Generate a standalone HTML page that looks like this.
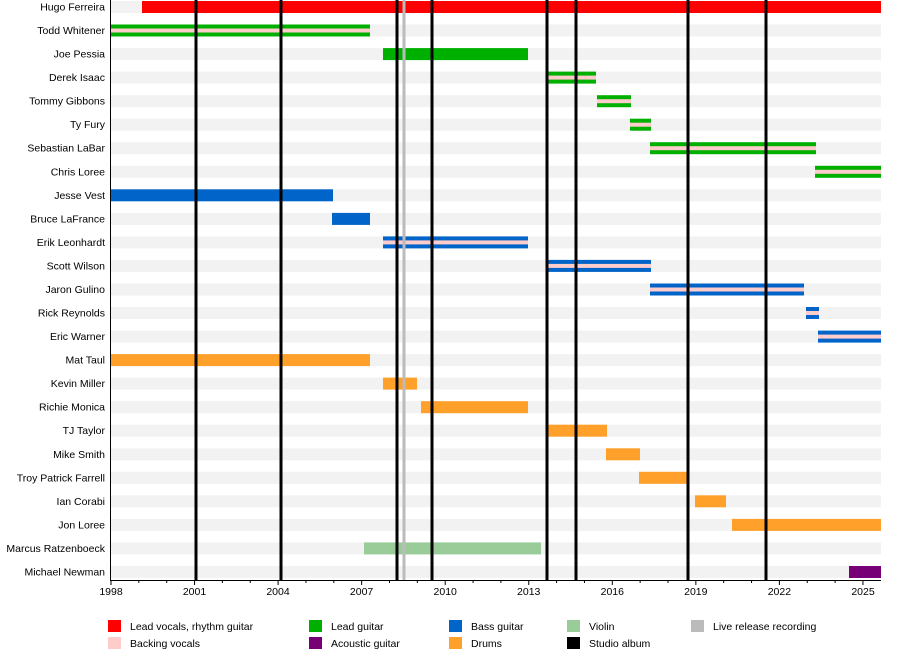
<!DOCTYPE html>
<html><head><meta charset="utf-8"><style>body{margin:0;background:#fff}svg{display:block}text{font-family:"Liberation Sans",sans-serif;font-size:10.5px;fill:#000}</style></head><body>
<svg width="900" height="656" xmlns="http://www.w3.org/2000/svg">
<g fill="#f2f2f2">
<rect x="111" y="1" width="770" height="12"/><rect x="111" y="24.5" width="770" height="12"/><rect x="111" y="48.1" width="770" height="12"/><rect x="111" y="71.6" width="770" height="12"/><rect x="111" y="95.2" width="770" height="12"/><rect x="111" y="118.7" width="770" height="12"/><rect x="111" y="142.2" width="770" height="12"/><rect x="111" y="165.8" width="770" height="12"/><rect x="111" y="189.3" width="770" height="12"/><rect x="111" y="212.9" width="770" height="12"/><rect x="111" y="236.4" width="770" height="12"/><rect x="111" y="259.9" width="770" height="12"/><rect x="111" y="283.5" width="770" height="12"/><rect x="111" y="307" width="770" height="12"/><rect x="111" y="330.6" width="770" height="12"/><rect x="111" y="354.1" width="770" height="12"/><rect x="111" y="377.6" width="770" height="12"/><rect x="111" y="401.2" width="770" height="12"/><rect x="111" y="424.7" width="770" height="12"/><rect x="111" y="448.3" width="770" height="12"/><rect x="111" y="471.8" width="770" height="12"/><rect x="111" y="495.3" width="770" height="12"/><rect x="111" y="518.9" width="770" height="12"/><rect x="111" y="542.4" width="770" height="12"/><rect x="111" y="566" width="770" height="12"/>
</g>
<g text-anchor="end">
<text x="105" y="10.5">Hugo Ferreira</text><text x="105" y="34">Todd Whitener</text><text x="105" y="57.6">Joe Pessia</text><text x="105" y="81.1">Derek Isaac</text><text x="105" y="104.7">Tommy Gibbons</text><text x="105" y="128.2">Ty Fury</text><text x="105" y="151.7">Sebastian LaBar</text><text x="105" y="175.3">Chris Loree</text><text x="105" y="198.8">Jesse Vest</text><text x="105" y="222.4">Bruce LaFrance</text><text x="105" y="245.9">Erik Leonhardt</text><text x="105" y="269.4">Scott Wilson</text><text x="105" y="293">Jaron Gulino</text><text x="105" y="316.5">Rick Reynolds</text><text x="105" y="340.1">Eric Warner</text><text x="105" y="363.6">Mat Taul</text><text x="105" y="387.1">Kevin Miller</text><text x="105" y="410.7">Richie Monica</text><text x="105" y="434.2">TJ Taylor</text><text x="105" y="457.8">Mike Smith</text><text x="105" y="481.3">Troy Patrick Farrell</text><text x="105" y="504.8">Ian Corabi</text><text x="105" y="528.4">Jon Loree</text><text x="105" y="551.9">Marcus Ratzenboeck</text><text x="105" y="575.5">Michael Newman</text>
</g>
<rect x="142" y="1" width="739" height="12" fill="#ff0000"/>
<g fill="#00b000">
<rect x="111" y="24.5" width="259" height="12"/><rect x="383" y="48.1" width="145" height="12"/><rect x="548" y="71.6" width="48" height="12"/><rect x="597" y="95.2" width="34" height="12"/><rect x="630" y="118.7" width="21" height="12"/><rect x="650" y="142.2" width="166" height="12"/><rect x="815" y="165.8" width="66" height="12"/>
</g>
<g fill="#0064c8">
<rect x="111" y="189.3" width="222" height="12"/><rect x="332" y="212.9" width="38" height="12"/><rect x="383" y="236.4" width="145" height="12"/><rect x="548" y="259.9" width="103" height="12"/><rect x="650" y="283.5" width="154" height="12"/><rect x="806" y="307" width="13" height="12"/><rect x="818" y="330.6" width="63" height="12"/>
</g>
<g fill="#ffa02a">
<rect x="111" y="354.1" width="259" height="12"/><rect x="383" y="377.6" width="34" height="12"/><rect x="421" y="401.2" width="107" height="12"/><rect x="548" y="424.7" width="59" height="12"/><rect x="606" y="448.3" width="34" height="12"/><rect x="639" y="471.8" width="50" height="12"/><rect x="695" y="495.3" width="31" height="12"/><rect x="732" y="518.9" width="149" height="12"/>
</g>
<rect x="364" y="542.4" width="177" height="12" fill="#99cc99"/>
<rect x="849" y="566" width="32" height="12" fill="#770077"/>
<g fill="#ffcccc">
<rect x="111" y="28.5" width="259" height="4"/><rect x="548" y="75.6" width="48" height="4"/><rect x="597" y="99.2" width="34" height="4"/><rect x="630" y="122.7" width="21" height="4"/><rect x="650" y="146.2" width="166" height="4"/><rect x="815" y="169.8" width="66" height="4"/>
<rect x="383" y="240.4" width="145" height="4"/><rect x="548" y="263.9" width="103" height="4"/><rect x="650" y="287.5" width="154" height="4"/><rect x="806" y="311" width="13" height="4"/><rect x="818" y="334.6" width="63" height="4"/>
</g>
<g fill="#000">
<rect x="194.5" y="0" width="3" height="580"/><rect x="279.5" y="0" width="3" height="580"/><rect x="395.5" y="0" width="3" height="580"/><rect x="430.5" y="0" width="3" height="580"/><rect x="545.5" y="0" width="3" height="580"/><rect x="574.5" y="0" width="3" height="580"/><rect x="686.5" y="0" width="3" height="580"/><rect x="764.5" y="0" width="3" height="580"/>
</g>
<rect x="402.5" y="0" width="3" height="580" fill="#bbb"/>
<rect x="110" y="0" width="1" height="581" fill="#000"/><rect x="110" y="580" width="771" height="1" fill="#000"/>
<path d="M111 580v5M138.85 580v3M166.7 580v3M194.55 580v5M222.4 580v3M250.25 580v3M278.1 580v5M305.95 580v3M333.8 580v3M361.65 580v5M389.5 580v3M417.35 580v3M445.2 580v5M473.05 580v3M500.9 580v3M528.75 580v5M556.6 580v3M584.45 580v3M612.3 580v5M640.15 580v3M668 580v3M695.85 580v5M723.7 580v3M751.55 580v3M779.4 580v5M807.25 580v3M835.1 580v3M862.95 580v5" stroke="#000" stroke-width="1"/>
<g text-anchor="middle">
<text x="111" y="595">1998</text><text x="194.5" y="595">2001</text><text x="278" y="595">2004</text><text x="361.6" y="595">2007</text><text x="445.2" y="595">2010</text><text x="528.7" y="595">2013</text><text x="612.3" y="595">2016</text><text x="695.8" y="595">2019</text><text x="779.4" y="595">2022</text><text x="863" y="595">2025</text>
</g>
<rect x="108" y="620" width="13" height="12" fill="#ff0000"/><text x="130" y="630">Lead vocals, rhythm guitar</text>
<rect x="108" y="637" width="13" height="12" fill="#ffcccc"/><text x="130" y="647">Backing vocals</text>
<rect x="309" y="620" width="13" height="12" fill="#00b000"/><text x="331" y="630">Lead guitar</text>
<rect x="309" y="637" width="13" height="12" fill="#770077"/><text x="331" y="647">Acoustic guitar</text>
<rect x="449" y="620" width="13" height="12" fill="#0064c8"/><text x="471" y="630">Bass guitar</text>
<rect x="449" y="637" width="13" height="12" fill="#ffa02a"/><text x="471" y="647">Drums</text>
<rect x="567" y="620" width="13" height="12" fill="#99cc99"/><text x="589" y="630">Violin</text>
<rect x="567" y="637" width="13" height="12" fill="#000"/><text x="589" y="647">Studio album</text>
<rect x="691" y="620" width="13" height="12" fill="#bbb"/><text x="713" y="630">Live release recording</text>
</svg>
</body></html>
